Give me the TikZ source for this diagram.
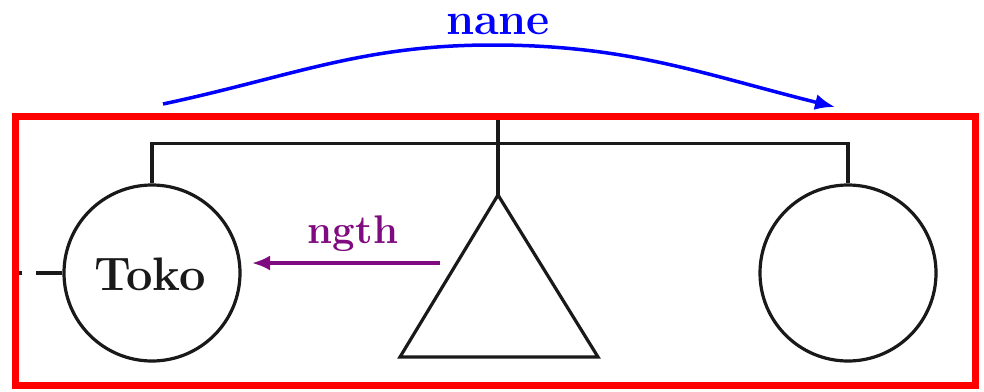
\documentclass[tikz,border=0pt]{standalone}
\usetikzlibrary{arrows.meta}
\definecolor{kpurple}{RGB}{128,10,128}
\definecolor{kblack}{RGB}{25,25,25}
\begin{document}
\begin{tikzpicture}[x=1pt,y=-1pt,
  person/.style={circle,draw=kblack,line width=3.2pt,minimum size=176pt,inner sep=0pt},
  kinline/.style={draw=kblack,line width=3.2pt},
  lbl/.style={font=\fontsize{#1}{#1}\selectfont\bfseries,inner sep=0pt},
  relarrow/.style={line width=3.5pt,-{Latex[length=18pt,width=15pt]}}]
\useasboundingbox (0,0) rectangle (984,391);
\fill[white] (0,0) rectangle (984,391);
% family tree
\node[person] (L) at (152,273) {};
\node[lbl=47,kblack,anchor=base] (toko) at (150,290) {Toko};
\node[person] (R) at (848,273) {};
\coordinate (apex) at (498,195);
\coordinate (bl) at (400,357);
\coordinate (br) at (598,357);
\coordinate (top) at (498,120);
\draw[kinline,line join=miter] (apex) -- (br) -- (bl) -- cycle;
\draw[kinline] (top) -- (apex);
\draw[kinline] (L.north) -- ++(0,-40) -| (R.north);
\draw[kinline,dash pattern=on 26pt off 14pt] (L.west) -- ++(-48,0);
% ngth
\coordinate (ps) at (440,263);
\coordinate (pe) at (252,263);
\draw[relarrow,kpurple] (ps) -- (pe);
\node[lbl=40,kpurple,anchor=base] (ngth) at (353,243) {ngth};
% nane
\coordinate (ns) at (163,104);
\coordinate (npk) at (492,45);
\coordinate (ne) at (835,107);
\draw[blue,line width=3.5pt,-{Latex[length=20pt,width=16pt]}] (ns) to[out=12,in=180] (npk) to[out=0,in=166] (ne);
\node[lbl=45,blue,anchor=base] (nane) at (498,34) {nane};
% frame
\draw[red,line width=7pt] (15,116) rectangle (975,385);
\end{tikzpicture}
\end{document}
